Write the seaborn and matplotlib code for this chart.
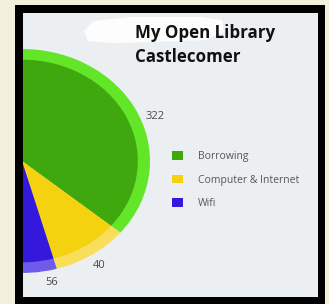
import matplotlib
matplotlib.use("Agg")
import matplotlib.pyplot as plt
import seaborn as sns
from matplotlib.patches import Rectangle, Polygon
import numpy as np

# ---- data ----
categories = ["Borrowing", "Computer & Internet", "Wifi"]
values = [322, 40, 56]
value_labels = ["322", "40", "56"]

sns.set_theme(style="white")
plt.rcParams['font.family'] = ['Open Sans', 'DejaVu Sans']

inner_colors = sns.color_palette(["#3fa80e", "#f5d20f", "#3419dc"])
ring_colors = sns.color_palette(["#64e628", "#f8de5a", "#6e5aeb"])

W, H = 329, 304
fig = plt.figure(figsize=(W / 100, H / 100), dpi=100, facecolor="#f3f1dc")


def fx(px):
    return px / W


def fy(py):
    return 1 - py / H


# black frame and light panel
fig.patches.append(Rectangle((fx(15), 0), fx(325) - fx(15), fy(5),
                             transform=fig.transFigure, facecolor='black',
                             edgecolor='none', zorder=0))
fig.patches.append(Rectangle((fx(23), fy(297)), fx(318) - fx(23), fy(13) - fy(297),
                             transform=fig.transFigure, facecolor='#eceff1',
                             edgecolor='none', zorder=0.5))
# white smudge behind title
smudge = [(84, 31), (94, 21), (130, 17), (200, 17), (222, 20), (224, 32),
          (205, 40), (150, 42), (115, 43), (88, 41)]
fig.patches.append(Polygon([(fx(x), fy(y)) for x, y in smudge], closed=True,
                           transform=fig.transFigure, facecolor='white',
                           edgecolor='none', alpha=0.9, zorder=0.6))

ax = fig.add_axes([fx(23), fy(297), fx(318) - fx(23), fy(13) - fy(297)])
ax.axis('off')
ax.set_zorder(2)

total = sum(values)
yellow_center = -57.0
start = yellow_center + (values[0] + values[1] / 2) / total * 360

outer, _ = ax.pie(values, colors=ring_colors, radius=1.0, startangle=start,
                  counterclock=False, wedgeprops=dict(linewidth=0))
inner, _ = ax.pie(values, colors=inner_colors, radius=0.905, startangle=start,
                  counterclock=False, wedgeprops=dict(linewidth=0))
for w in list(outer) + list(inner):
    w.set_clip_on(True)
    w.set_clip_box(ax.bbox)
ax.set_aspect('auto')
ax.set_xlim((23 - 22) / 128, (318 - 22) / 128)
ax.set_ylim((161 - 297) / 112, (161 - 13) / 112)

label_angles = [21, -57, -78]
label_r = [1.11, 1.11, 1.11]
for lab, a, r in zip(value_labels, label_angles, label_r):
    t = np.deg2rad(a)
    ax.text(r * np.cos(t), r * np.sin(t), lab, ha='center', va='center',
            fontsize=8, color='#4a4a4a', clip_on=False)

leg = fig.legend(handles=inner, labels=categories, loc='upper left',
                 bbox_to_anchor=(fx(172), fy(151)), frameon=False, fontsize=7.5,
                 handlelength=1.06, handleheight=0.87, handletextpad=1.45,
                 labelspacing=1.2, borderpad=0, borderaxespad=0,
                 labelcolor='#555555')
leg.set_zorder(3)

fig.text(fx(135), fy(24), "My Open Library\nCastlecomer", ha='left', va='top',
         fontsize=12.2, fontweight='bold', color='#111111', linespacing=1.4,
         zorder=3)

fig.savefig('out.png', dpi=100, facecolor=fig.get_facecolor())
